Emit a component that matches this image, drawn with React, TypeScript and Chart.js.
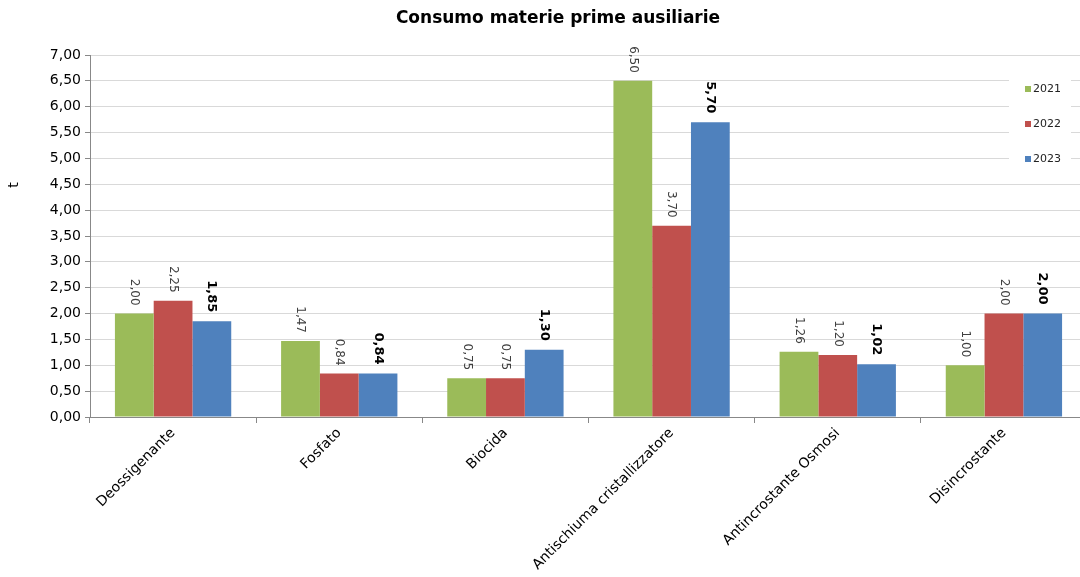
import React, { useEffect, useRef } from "react";
import { Chart, registerables } from "chart.js";

Chart.register(...registerables);

const categories = [
  "Deossigenante",
  "Fosfato",
  "Biocida",
  "Antischiuma cristallizzatore",
  "Antincrostante Osmosi",
  "Disincrostante",
];
const seriesNames = ["2021", "2022", "2023"];
const values2021 = [2.0, 1.47, 0.75, 6.5, 1.26, 1.0];
const values2022 = [2.25, 0.84, 0.75, 3.7, 1.2, 2.0];
const values2023 = [1.85, 0.84, 1.3, 5.7, 1.02, 2.0];
const colors = ["#9BBB59", "#C0504D", "#4F81BD"];
const yTicksMax = 7;
const yStep = 0.5;
const titleText = "Consumo materie prime ausiliarie";
const yTitle = "t";

const FONT = "'DejaVu Sans', Verdana, sans-serif";
const fmt = (v: number) => v.toFixed(2).replace(".", ",");

const customPlugin = {
  id: "custom",
  afterDatasetsDraw(chart: any) {
    const ctx = chart.ctx;
    ctx.save();
    chart.data.datasets.forEach((ds: any, di: number) => {
      const meta = chart.getDatasetMeta(di);
      const bold = di === 2;
      meta.data.forEach((bar: any, i: number) => {
        const v = ds.data[i];
        ctx.save();
        ctx.translate(bar.x, bar.y - (bold ? 9 : 8));
        ctx.rotate(Math.PI / 2);
        ctx.font = bold ? `bold 13px ${FONT}` : `12px ${FONT}`;
        ctx.fillStyle = bold ? "#000000" : "#404040";
        ctx.textAlign = "right";
        ctx.textBaseline = "middle";
        ctx.fillText(fmt(v), 0, 0);
        ctx.restore();
      });
    });
    ctx.restore();
  },
  afterDraw(chart: any) {
    const ctx = chart.ctx;
    ctx.save();
    // title
    ctx.font = `bold 17px ${FONT}`;
    ctx.fillStyle = "#000000";
    ctx.textAlign = "center";
    ctx.textBaseline = "middle";
    ctx.fillText(titleText, 558, 19);
    // y title
    ctx.save();
    ctx.translate(14, 185);
    ctx.rotate(-Math.PI / 2);
    ctx.font = `14px ${FONT}`;
    ctx.fillStyle = "#000000";
    ctx.textAlign = "center";
    ctx.textBaseline = "middle";
    ctx.fillText(yTitle, 0, 0);
    ctx.restore();
    // legend
    ctx.fillStyle = "#ffffff";
    ctx.fillRect(1009, 70, 62, 106);
    chart.data.datasets.forEach((ds: any, i: number) => {
      const y = 89 + i * 35;
      ctx.fillStyle = ds.backgroundColor;
      ctx.fillRect(1025, y - 3, 6, 6);
      ctx.fillStyle = "#222222";
      ctx.font = `11px ${FONT}`;
      ctx.textAlign = "left";
      ctx.textBaseline = "middle";
      ctx.fillText(ds.label, 1033, y);
    });
    ctx.restore();
  },
};

export default function App() {
  const ref = useRef<HTMLCanvasElement | null>(null);
  useEffect(() => {
    if (!ref.current) return;
    const chart = new Chart(ref.current, {
      type: "bar",
      data: {
        labels: categories,
        datasets: [values2021, values2022, values2023].map((d, i) => ({
          label: seriesNames[i],
          data: d,
          backgroundColor: colors[i],
          borderWidth: 0,
          categoryPercentage: 0.7,
          barPercentage: 1.0,
        })),
      },
      options: {
        animation: false,
        responsive: false,
        layout: { padding: { left: 0, top: 55, right: 3, bottom: 0 } },
        plugins: {
          legend: { display: false },
          title: { display: false },
          tooltip: { enabled: false },
        },
        scales: {
          x: {
            grid: {
              offset: true,
              drawOnChartArea: false,
              drawTicks: true,
              tickLength: 6,
              tickColor: "#888888",
            },
            border: { color: "#888888", width: 1 },
            ticks: {
              minRotation: 45,
              maxRotation: 45,
              autoSkip: false,
              color: "#000000",
              font: { family: FONT, size: 14 },
              padding: 2,
            },
            afterFit(scale: any) {
              scale.height = 160;
            },
          },
          y: {
            min: 0,
            max: yTicksMax,
            ticks: {
              stepSize: yStep,
              callback: (v: any) => fmt(Number(v)),
              color: "#000000",
              font: { family: FONT, size: 14 },
              padding: 4,
            },
            grid: {
              color: "#d9d9d9",
              tickColor: "#888888",
              tickLength: 5,
            },
            border: { color: "#888888", width: 1 },
            afterFit(scale: any) {
              scale.width = 90;
            },
          },
        },
      },
      plugins: [customPlugin],
    });
    return () => chart.destroy();
  }, []);
  return (
    <div style={{ position: "absolute", left: 0, top: 0, width: 1080, height: 577, overflow: "hidden", background: "#fff" }}>
      <canvas ref={ref} width={1090} height={577} />
    </div>
  );
}
